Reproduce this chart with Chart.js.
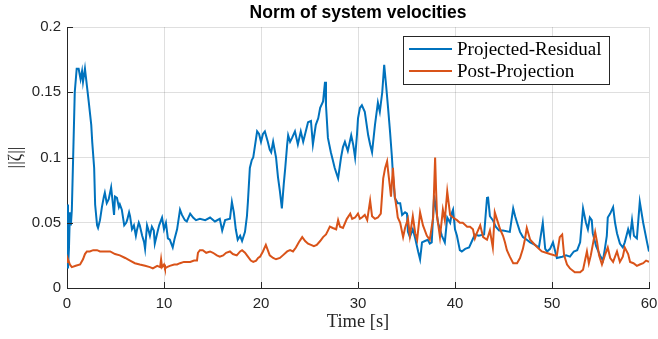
<!DOCTYPE html>
<html>
<head>
<meta charset="utf-8">
<script src="https://cdn.jsdelivr.net/npm/chart.js@4"></script>
<style>
  html, body { margin: 0; padding: 0; background: #fff; }
  #wrap { width: 658px; height: 339px; }
</style>
</head>
<body>
<div id="wrap"><canvas id="chart" width="658" height="339"></canvas></div>
<script>
// Norm of system velocities: two noisy time series, MATLAB-like look.

const titleText = "Norm of system velocities";
const xLabel = "Time [s]";
const yLabel = "||\u03b6||";
const seriesNames = ["Projected-Residual", "Post-Projection"];

const xTicks = [0, 10, 20, 30, 40, 50, 60];
const xTickLabels = ["0", "10", "20", "30", "40", "50", "60"];
const yTicks = [0, 0.05, 0.1, 0.15, 0.2];
const yTickLabels = ["0", "0.05", "0.1", "0.15", "0.2"];

// Projected-Residual (blue)
const projTime = [
  0, 0.1, 0.2, 0.3, 0.4, 0.5, 0.7, 0.8, 1.0, 1.2, 1.4, 1.55, 1.65, 1.85, 2.05, 2.25, 2.5, 2.6, 2.8, 2.9,
  3.1, 3.2, 3.4, 3.6, 3.8, 3.9, 4.1, 4.3, 4.55, 4.65, 4.85, 4.95, 5.15, 5.35, 5.45, 5.65, 5.9, 6.1, 6.2, 6.4,
  6.5, 6.7, 6.9, 7.1, 7.2, 7.4, 7.5, 7.75, 7.95, 8.05, 8.25, 8.45, 8.55, 8.75, 8.95, 9.05, 9.3, 9.5, 9.7, 9.8,
  10.0, 10.2, 10.4, 10.6, 10.9, 11.1, 11.35, 11.65, 11.85, 12.15, 12.35, 12.7, 13.0, 13.3, 13.7, 14.25, 14.75, 15.25, 15.75, 16.0,
  16.3, 16.8, 17.0, 17.2, 17.4, 17.6, 17.85, 18.05, 18.35, 18.55, 18.65, 18.85, 19.05, 19.2, 19.4, 19.6, 19.8, 20.0, 20.2, 20.4,
  20.7, 20.9, 21.05, 21.25, 21.55, 21.75, 21.95, 22.15, 22.35, 22.5, 22.7, 22.8, 23.0, 23.2, 23.5, 23.8, 24.1, 24.35, 24.55, 24.85,
  25.15, 25.35, 25.65, 25.9, 26.1, 26.4, 26.6, 26.7, 26.9, 27.2, 27.4, 27.6, 27.95, 28.25, 28.45, 28.65, 28.95, 29.3, 29.5, 29.7,
  29.9, 30.0, 30.2, 30.4, 30.7, 31.05, 31.25, 31.45, 31.75, 32.05, 32.25, 32.5, 32.7, 32.9, 33.1, 33.3, 33.5, 33.6, 33.8, 34.1,
  34.35, 34.55, 34.85, 35.05, 35.15, 35.35, 35.65, 35.9, 36.2, 36.4, 36.6, 36.9, 37.2, 37.4, 37.6, 37.85, 38.05, 38.25, 38.45, 38.65,
  38.95, 39.2, 39.5, 39.7, 39.8, 40.0, 40.2, 40.5, 40.7, 41.05, 41.45, 41.75, 42.05, 42.45, 43.0, 43.3, 43.4, 43.6, 43.9, 44.2,
  44.55, 44.95, 45.65, 46.0, 46.2, 46.4, 46.7, 47.0, 47.4, 47.75, 48.25, 48.65, 49.05, 49.3, 49.5, 49.8, 50.1, 50.5, 51.05, 51.45,
  51.85, 52.25, 52.6, 52.9, 53.2, 53.5, 53.7, 53.9, 54.1, 54.2, 54.55, 54.95, 55.25, 55.45, 55.65, 55.75, 56.0, 56.3, 56.5, 56.7,
  57.0, 57.3, 57.5, 57.85, 58.05, 58.25, 58.45, 58.75, 59.05, 59.4, 59.8, 60.0
];
const projValues = [
  0.064, 0.015, 0.03, 0.058, 0.048, 0.06, 0.12, 0.15, 0.168, 0.168, 0.160, 0.166, 0.158, 0.168, 0.155, 0.142, 0.125, 0.112, 0.092, 0.064,
  0.048, 0.046, 0.052, 0.062, 0.07, 0.073, 0.065, 0.068, 0.077, 0.07, 0.056, 0.07, 0.069, 0.062, 0.064, 0.06, 0.048, 0.05, 0.052, 0.058,
  0.055, 0.045, 0.048, 0.04, 0.044, 0.05, 0.048, 0.04, 0.035, 0.030, 0.048, 0.043, 0.040, 0.047, 0.044, 0.034, 0.042, 0.048, 0.052, 0.054,
  0.045, 0.05, 0.038, 0.037, 0.031, 0.038, 0.045, 0.060, 0.056, 0.052, 0.051, 0.057, 0.054, 0.052, 0.053, 0.052, 0.054, 0.051, 0.053, 0.044,
  0.052, 0.053, 0.066, 0.058, 0.045, 0.037, 0.04, 0.036, 0.043, 0.055, 0.066, 0.092, 0.098, 0.1, 0.11, 0.12, 0.118, 0.112, 0.118, 0.12,
  0.112, 0.106, 0.104, 0.112, 0.1, 0.085, 0.074, 0.061, 0.08, 0.092, 0.11, 0.117, 0.112, 0.115, 0.12, 0.11, 0.12, 0.112, 0.118, 0.127,
  0.128, 0.11, 0.125, 0.13, 0.138, 0.143, 0.158, 0.14, 0.115, 0.104, 0.098, 0.092, 0.084, 0.1, 0.108, 0.112, 0.105, 0.117, 0.11, 0.1,
  0.118, 0.13, 0.138, 0.14, 0.135, 0.117, 0.11, 0.104, 0.125, 0.142, 0.135, 0.15, 0.171, 0.155, 0.138, 0.12, 0.1, 0.087, 0.069, 0.065,
  0.065, 0.056, 0.058, 0.057, 0.043, 0.039, 0.045, 0.038, 0.028, 0.022, 0.035, 0.036, 0.037, 0.034, 0.035, 0.071, 0.06, 0.05, 0.045, 0.04,
  0.035, 0.054, 0.05, 0.058, 0.06, 0.045, 0.04, 0.029, 0.028, 0.03, 0.031, 0.036, 0.041, 0.04, 0.041, 0.069, 0.07, 0.055, 0.052, 0.047,
  0.044, 0.044, 0.043, 0.061, 0.055, 0.05, 0.043, 0.039, 0.037, 0.035, 0.033, 0.031, 0.05, 0.03, 0.028, 0.03, 0.035, 0.023, 0.024, 0.025,
  0.024, 0.028, 0.029, 0.035, 0.061, 0.05, 0.045, 0.054, 0.052, 0.042, 0.032, 0.025, 0.021, 0.03, 0.04, 0.054, 0.057, 0.062, 0.05, 0.042,
  0.034, 0.031, 0.035, 0.045, 0.04, 0.052, 0.04, 0.038, 0.066, 0.05, 0.035, 0.028
];

// Post-Projection (orange)
const postTime = [
  0, 0.1, 0.3, 0.5, 0.9, 1.35, 1.65, 1.85, 2.05, 2.35, 2.7, 3.1, 3.4, 3.9, 4.45, 4.95, 5.45, 6.0, 6.5, 7.0,
  7.5, 8.05, 8.55, 8.85, 9.3, 9.6, 9.7, 9.8, 10.0, 10.1, 10.3, 10.6, 11.05, 11.35, 11.65, 12.05, 12.35, 12.7, 13.1, 13.4,
  13.5, 13.7, 14.0, 14.35, 14.75, 15.05, 15.45, 15.75, 16.1, 16.4, 16.8, 17.1, 17.5, 17.85, 18.05, 18.35, 18.65, 18.95, 19.2, 19.5,
  19.7, 19.9, 20.2, 20.5, 20.7, 20.9, 21.25, 21.55, 21.95, 22.25, 22.7, 23.0, 23.3, 23.6, 23.9, 24.25, 24.55, 24.85, 25.15, 25.45,
  25.75, 26.1, 26.4, 26.7, 26.9, 27.1, 27.4, 27.75, 27.95, 28.15, 28.45, 28.85, 29.2, 29.4, 29.7, 30.0, 30.2, 30.4, 30.7, 30.95,
  31.25, 31.45, 31.75, 32.05, 32.35, 32.6, 32.8, 33.0, 33.1, 33.3, 33.4, 33.6, 33.8, 34.0, 34.1, 34.35, 34.65, 34.85, 35.15, 35.35,
  35.65, 35.9, 36.1, 36.4, 36.7, 37.1, 37.4, 37.75, 37.95, 38.05, 38.15, 38.45, 38.75, 38.95, 39.2, 39.5, 39.8, 40.2, 40.5, 40.8,
  41.25, 41.55, 41.85, 42.05, 42.25, 42.6, 42.9, 43.3, 43.6, 43.9, 44.1, 44.35, 44.65, 44.95, 45.15, 45.35, 45.65, 46.0, 46.4, 46.7,
  47.0, 47.2, 47.4, 47.75, 48.25, 48.65, 48.95, 49.4, 49.8, 50.3, 50.5, 50.8, 51.05, 51.25, 51.55, 51.85, 52.35, 52.9, 53.2, 53.6,
  53.8, 54.0, 54.45, 54.65, 54.85, 55.15, 55.45, 55.75, 56.0, 56.3, 56.7, 57.0, 57.3, 57.5, 57.85, 58.05, 58.4, 58.75, 59.05, 59.4,
  59.7, 60.0
];
const postValues = [
  0.020, 0.022, 0.018, 0.016, 0.017, 0.018, 0.022, 0.026, 0.028, 0.028, 0.029, 0.029, 0.028, 0.028, 0.028, 0.026, 0.025, 0.023, 0.021, 0.019,
  0.018, 0.017, 0.016, 0.015, 0.017, 0.016, 0.022, 0.016, 0.018, 0.015, 0.016, 0.017, 0.018, 0.018, 0.019, 0.020, 0.020, 0.020, 0.021, 0.021,
  0.027, 0.029, 0.029, 0.027, 0.028, 0.027, 0.025, 0.024, 0.025, 0.027, 0.028, 0.026, 0.025, 0.028, 0.029, 0.027, 0.024, 0.021, 0.020, 0.021,
  0.023, 0.024, 0.028, 0.033, 0.029, 0.025, 0.023, 0.022, 0.023, 0.025, 0.028, 0.029, 0.028, 0.031, 0.035, 0.039, 0.036, 0.034, 0.033, 0.032,
  0.033, 0.036, 0.039, 0.041, 0.044, 0.047, 0.046, 0.045, 0.052, 0.047, 0.046, 0.053, 0.057, 0.053, 0.054, 0.057, 0.053, 0.054, 0.056, 0.052,
  0.067, 0.055, 0.053, 0.054, 0.057, 0.084, 0.092, 0.097, 0.09, 0.077, 0.07, 0.092, 0.07, 0.06, 0.054, 0.05, 0.039, 0.046, 0.053, 0.04,
  0.055, 0.042, 0.037, 0.058, 0.048, 0.04, 0.037, 0.054, 0.1, 0.075, 0.055, 0.039, 0.06, 0.052, 0.074, 0.056, 0.054, 0.052, 0.05, 0.05,
  0.047, 0.047, 0.045, 0.038, 0.042, 0.048, 0.039, 0.037, 0.044, 0.031, 0.058, 0.052, 0.045, 0.04, 0.035, 0.029, 0.024, 0.019, 0.019, 0.023,
  0.03, 0.037, 0.046, 0.037, 0.033, 0.03, 0.028, 0.027, 0.026, 0.025, 0.025, 0.039, 0.041, 0.025, 0.018, 0.015, 0.012, 0.012, 0.014, 0.028,
  0.019, 0.025, 0.043, 0.035, 0.025, 0.018, 0.025, 0.031, 0.023, 0.02, 0.028, 0.02, 0.024, 0.031, 0.026, 0.02, 0.019, 0.017, 0.018, 0.019,
  0.021, 0.02
];

const BLUE = "#0072BD";
const ORANGE = "#D95319";
const AXIS = "#262626";
const GRID = "rgba(38,38,38,0.15)";
const SANS = "'Liberation Sans', Arial, Helvetica, sans-serif";
const SERIF = "'Liberation Serif', 'Times New Roman', serif";

function pairs(xs, ys) { return xs.map((t, i) => ({ x: t, y: ys[i] })); }

// ------------------------------------------------ title, inward ticks, boxed legend
const matlabDecor = {
  id: "matlabDecor",
  afterDraw(chart) {
    const { ctx, chartArea: a, scales: { x, y } } = chart;
    ctx.save();

    // tick marks point into the axes, MATLAB style
    ctx.strokeStyle = AXIS;
    ctx.lineWidth = 1;
    ctx.beginPath();
    x.ticks.forEach(t => {
      const px = Math.round(x.getPixelForValue(t.value)) + 0.5;
      ctx.moveTo(px, a.bottom); ctx.lineTo(px, a.bottom - 6);
    });
    y.ticks.forEach(t => {
      const py = Math.round(y.getPixelForValue(t.value)) + 0.5;
      ctx.moveTo(a.left, py); ctx.lineTo(a.left + 6, py);
    });
    ctx.stroke();

    // title centred over the axes
    ctx.fillStyle = "#000";
    ctx.font = "bold 17.5px " + SANS;
    ctx.textAlign = "center";
    ctx.textBaseline = "alphabetic";
    ctx.fillText(titleText, (a.left + a.right) / 2, 18);

    // legend box, north-east
    const bx = 403, by = 36, bw = 206, bh = 48;
    ctx.fillStyle = "#fff";
    ctx.fillRect(bx, by, bw, bh);
    ctx.strokeStyle = AXIS;
    ctx.lineWidth = 1;
    ctx.strokeRect(bx + 0.5, by + 0.5, bw, bh);
    ctx.font = "19px " + SERIF;
    ctx.textAlign = "left";
    chart.data.datasets.forEach((ds, i) => {
      const ly = by + 13 + i * 22;
      ctx.strokeStyle = ds.borderColor;
      ctx.lineWidth = 2;
      ctx.beginPath();
      ctx.moveTo(bx + 6, ly); ctx.lineTo(bx + 49, ly);
      ctx.stroke();
      ctx.fillStyle = "#000";
      ctx.fillText(ds.label, bx + 54, ly + 6);
    });
    ctx.restore();
  }
};

new Chart(document.getElementById("chart"), {
  type: "line",
  data: {
    datasets: [
      { label: seriesNames[0], data: pairs(projTime, projValues), borderColor: BLUE,
        backgroundColor: BLUE, borderWidth: 2, pointRadius: 0, tension: 0, order: 1 },
      { label: seriesNames[1], data: pairs(postTime, postValues), borderColor: ORANGE,
        backgroundColor: ORANGE, borderWidth: 2, pointRadius: 0, tension: 0, order: 0 },
    ],
  },
  options: {
    responsive: false,
    animation: false,
    events: [],
    layout: { padding: { left: 0, right: 9, top: 27, bottom: 0 } },
    plugins: { legend: { display: false }, tooltip: { enabled: false }, title: { display: false } },
    scales: {
      x: {
        type: "linear", min: 0, max: 60,
        afterBuildTicks: s => { s.ticks = xTicks.map(v => ({ value: v })); },
        afterFit: s => { s.height = 51; s.paddingLeft = 0; s.paddingRight = 0; },
        ticks: { color: AXIS, font: { family: SANS, size: 15 }, padding: 7, maxRotation: 0,
                 callback: (v, i) => xTickLabels[i] },
        grid: { color: GRID, drawTicks: false },
        border: { display: true, color: AXIS, width: 1 },
        title: { display: true, text: xLabel, color: AXIS, padding: { top: 0, bottom: 6 },
                 font: { family: SERIF, size: 18.5 } },
      },
      y: {
        type: "linear", min: 0, max: 0.2,
        afterBuildTicks: s => { s.ticks = yTicks.map(v => ({ value: v })); },
        afterFit: s => { s.width = 67; },
        ticks: { color: AXIS, font: { family: SANS, size: 15 }, padding: 6,
                 callback: (v, i) => yTickLabels[i] },
        grid: { color: GRID, drawTicks: false },
        border: { display: true, color: AXIS, width: 1 },
        title: { display: true, text: yLabel, color: AXIS, padding: { top: 5, bottom: 0 },
                 font: { family: SERIF, size: 18 } },
      },
    },
  },
  plugins: [matlabDecor],
});
</script>
</body>
</html>
